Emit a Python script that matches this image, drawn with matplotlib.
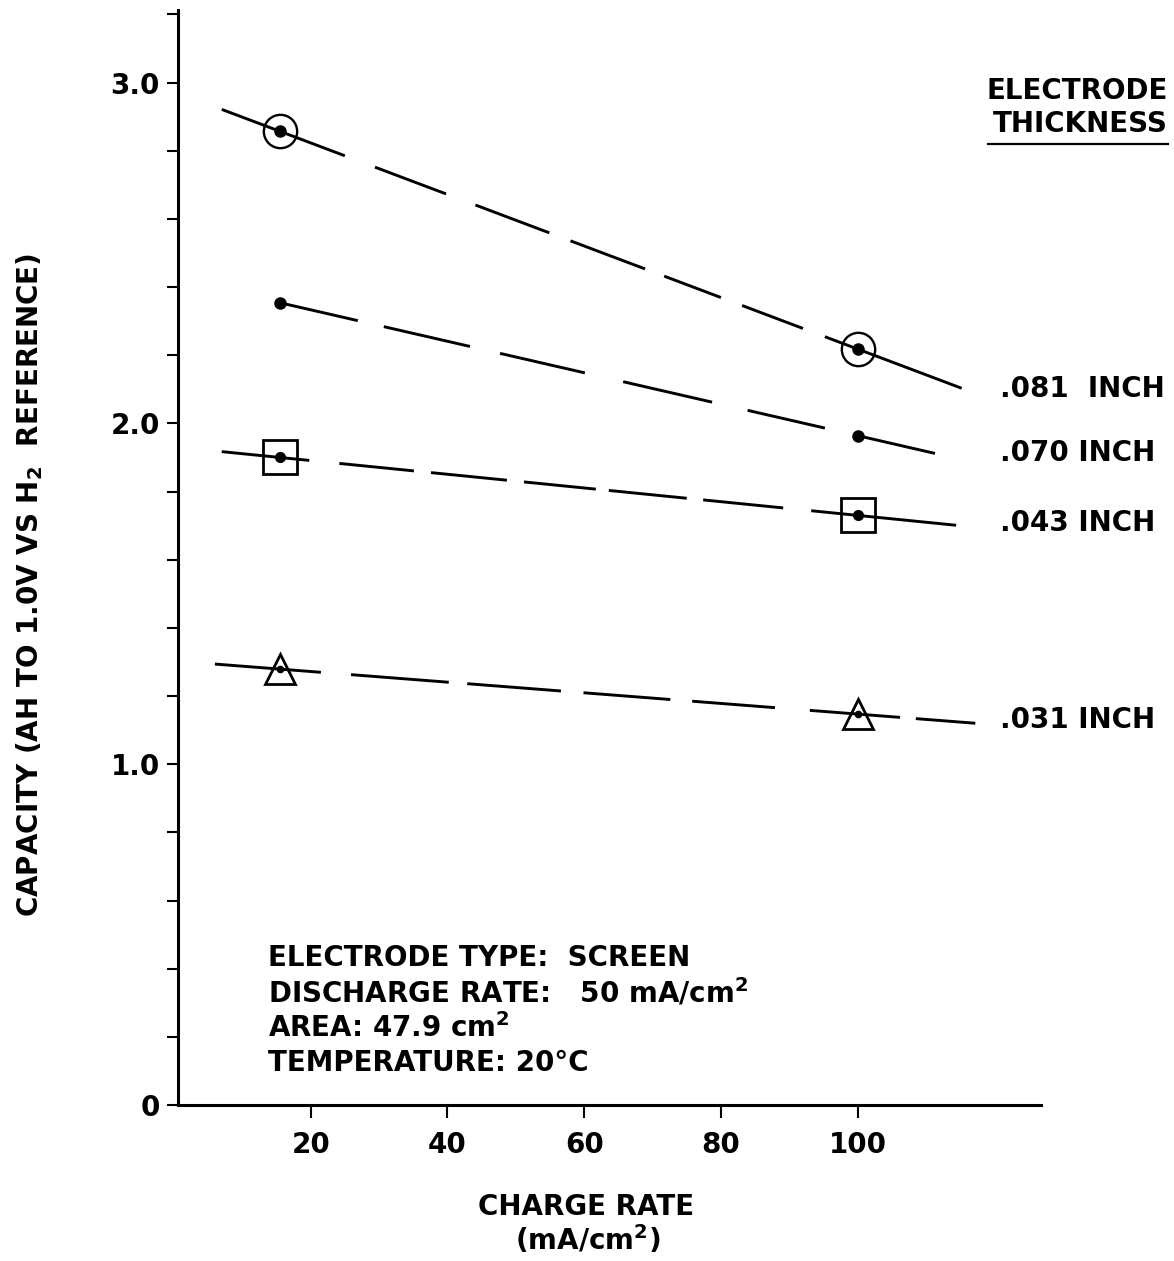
#!/usr/bin/env python3

import numpy as np
import matplotlib
matplotlib.use("Agg")
import matplotlib.pyplot as plt
from matplotlib.lines import Line2D
from matplotlib.ticker import MultipleLocator, FuncFormatter

#################################################
### Data
#################################################

charge_rate = [15.5, 100]          # mA/cm2

cap_081 = [2.857, 2.218]
cap_070 = [2.354, 1.964]
cap_043 = [1.900, 1.730]
cap_031 = [1.279, 1.147]

thickness_labels = [".081  INCH", ".070 INCH", ".043 INCH", ".031 INCH"]
x_ticks = [20, 40, 60, 80, 100]

info_lines = [
    "ELECTRODE TYPE:  SCREEN",
    "DISCHARGE RATE:   50 mA/cm$^\\mathbf{2}$",
    "AREA: 47.9 cm$^\\mathbf{2}$",
    "TEMPERATURE: 20°C",
]

#################################################
### Styles (hand-drawn dash layout, in x units)
#################################################

pieces = {
    ".081": [(7.0, 25.0), (29.4, 39.8), (44.1, 54.9), (58.0, 68.9),
             (71.7, 80.0), (83.1, 92.0), (95.2, 115.2)],
    ".070": [(15.5, 26.9), (30.7, 43.3), (47.7, 60.1), (65.7, 78.7),
             (83.9, 95.2), (100.0, 111.3)],
    ".043": [(7.0, 19.8), (24.2, 35.1), (37.6, 48.7), (51.2, 61.7),
             (63.6, 75.0), (77.4, 89.1), (93.2, 114.4)],
    ".031": [(6.0, 21.5), (25.9, 40.2), (42.9, 56.6), (59.9, 72.6),
             (75.8, 87.9), (93.0, 106.2), (108.5, 117.2)],
}

label_y = [2.101, 1.913, 1.708, 1.130]

FONT = dict(family="DejaVu Sans", fontweight="bold", color="black")
FS = 20
LW = 2.1

#################################################
### Plot
#################################################

fig = plt.figure(figsize=(11.74, 12.61), dpi=100)
ax = fig.add_axes([0.1516, 0.1237, 0.8867 - 0.1516, 0.9921 - 0.1237])

ax.set_xlim(0.6, 126.8)
ax.set_ylim(0, 3.213)

series = [(".081", cap_081), (".070", cap_070), (".043", cap_043), (".031", cap_031)]

for name, vals in series:
    coef = np.polyfit(charge_rate, vals, 1)
    for x0, x1 in pieces[name]:
        xs = np.array([x0, x1])
        ax.plot(xs, np.polyval(coef, xs), color="black", lw=LW,
                solid_capstyle="butt", clip_on=False)

# markers
ax.plot(charge_rate, cap_081, linestyle="none", marker="o", ms=24,
        mfc="none", mec="black", mew=1.7, clip_on=False)
ax.plot(charge_rate, cap_081, linestyle="none", marker="o", ms=8,
        color="black", clip_on=False)

ax.plot(charge_rate, cap_070, linestyle="none", marker="o", ms=8,
        color="black", clip_on=False)

ax.plot(charge_rate, cap_043, linestyle="none", marker="s", ms=24,
        mfc="none", mec="black", mew=2.0, clip_on=False)
ax.plot(charge_rate, cap_043, linestyle="none", marker="o", ms=7,
        color="black", clip_on=False)

ax.plot(charge_rate, cap_031, linestyle="none", marker="^", ms=22,
        mfc="none", mec="black", mew=2.0, clip_on=False)
ax.plot(charge_rate, cap_031, linestyle="none", marker="o", ms=4.5,
        color="black", clip_on=False)

# thickness labels
for lab, yv in zip(thickness_labels, label_y):
    ax.text(120.8, yv, lab, ha="left", va="center", fontsize=FS,
            clip_on=False, **FONT)

# axes styling
for side in ["top", "right"]:
    ax.spines[side].set_visible(False)
ax.spines["left"].set_linewidth(2.2)
ax.spines["bottom"].set_linewidth(2.2)

ax.set_xticks(x_ticks)
ax.set_xticklabels([str(t) for t in x_ticks])
ax.yaxis.set_major_locator(MultipleLocator(1.0))
ax.yaxis.set_minor_locator(MultipleLocator(0.2))
ax.yaxis.set_major_formatter(FuncFormatter(lambda v, p: "0" if v == 0 else f"{v:.1f}"))

ax.tick_params(axis="y", which="both", direction="out", length=8, width=1.5,
               pad=5, labelsize=FS)
ax.tick_params(axis="x", which="both", direction="out", length=9, width=1.5,
               pad=10, labelsize=FS)
for lab in ax.get_xticklabels() + ax.get_yticklabels():
    lab.set_fontweight("bold")

# axis titles
fig.text(30 / 1174, 0.536, "CAPACITY (AH TO 1.0V VS H$_\\mathbf{2}$  REFERENCE)",
         rotation=90, ha="center", va="center", fontsize=FS, **FONT)
fig.text(0.4991, 0.0428, "CHARGE RATE", ha="center", va="center", fontsize=FS, **FONT)
fig.text(0.5008, 0.0167, "(mA/cm$^\\mathbf{2}$)", ha="center", va="center",
         fontsize=FS, **FONT)

# legend header
fig.text(0.9949, 0.9278, "ELECTRODE", ha="right", va="center", fontsize=FS, **FONT)
fig.text(0.9949, 0.9017, "THICKNESS", ha="right", va="center", fontsize=FS, **FONT)
fig.add_artist(Line2D([988 / 1174, 1168 / 1174], [0.8858, 0.8858],
                      color="black", lw=1.6))

# info block
for i, line in enumerate(info_lines):
    fig.text(0.2283, 0.2403 - i * 0.02775, line, ha="left", va="center",
             fontsize=FS, **FONT)

fig.savefig("out.png", dpi=100)
